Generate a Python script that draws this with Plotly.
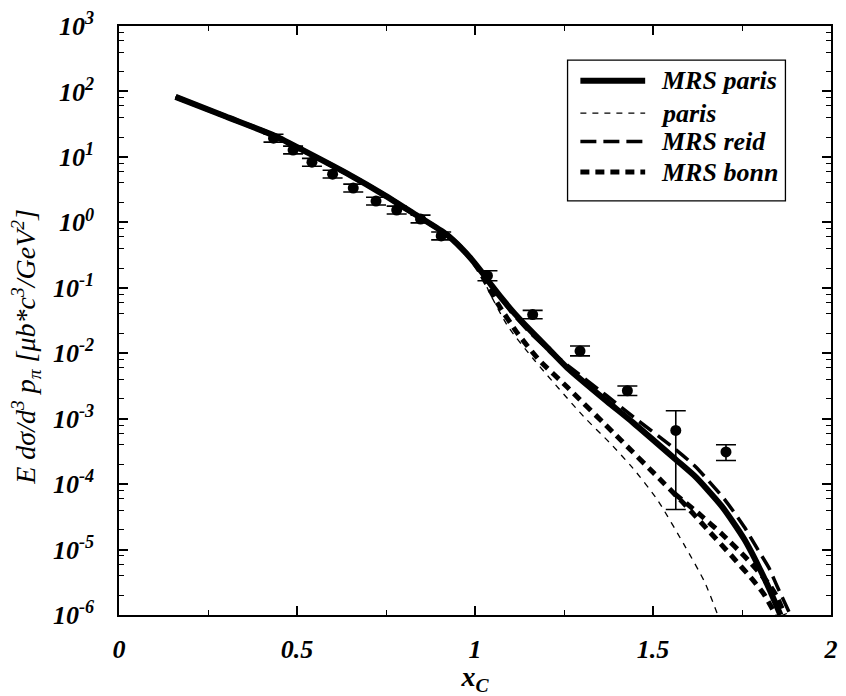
import plotly.graph_objects as go

FONT = "Liberation Serif, Times New Roman, serif"

# ---------------- data ----------------
# measured points
pts_x = [0.434, 0.489, 0.542, 0.600, 0.658, 0.722, 0.780, 0.847, 0.905,
         1.035, 1.162, 1.295, 1.428, 1.564, 1.705]
pts_y = [19.3, 12.7, 8.3, 5.45, 3.34, 2.11, 1.54, 1.12, 0.62,
         0.153, 0.039, 0.0108, 2.67e-3, 6.6e-4, 3.1e-4]
pts_err_up = [2.9, 1.9, 1.2, 0.8, 0.5, 0.31, 0.23, 0.17, 0.09,
              0.029, 0.0062, 0.0021, 4.8e-4, 6.6e-4, 0.9e-4]
pts_err_dn = [2.5, 1.6, 1.1, 0.7, 0.43, 0.27, 0.2, 0.14, 0.08,
              0.025, 0.0053, 0.0017, 4.1e-4, 6.19e-4, 0.8e-4]

# model curves
mrs_paris_x = [0.159, 0.30, 0.434, 0.511, 0.650, 0.742, 0.836, 0.919, 0.963, 0.991,
               1.030, 1.046, 1.101, 1.157, 1.212, 1.259, 1.370, 1.444, 1.563, 1.619,
               1.693, 1.757, 1.820, 1.858]
mrs_paris_y = [82.6, 41.4, 21.4, 13.1, 5.22, 2.68, 1.28, 0.661, 0.398, 0.269,
               0.145, 0.110, 0.0468, 0.0219, 0.0109, 6.0e-3, 1.85e-3, 8.7e-4, 2.4e-4, 1.30e-4,
               4.6e-5, 1.42e-5, 3.0e-6, 1.0e-6]

paris_x = [0.159, 0.30, 0.434, 0.511, 0.650, 0.742, 0.836, 0.919, 0.963, 0.991,
           1.010, 1.046, 1.093, 1.167, 1.305, 1.380, 1.444, 1.512, 1.590, 1.645, 1.682]
paris_y = [82.6, 41.4, 21.4, 13.1, 5.22, 2.68, 1.28, 0.661, 0.398, 0.269,
           0.186, 0.074, 0.0254, 7.8e-3, 1.08e-3, 4.2e-4, 1.74e-4, 5.8e-5, 1.12e-5, 3.2e-6, 1.0e-6]

mrs_reid_x = [0.159, 0.30, 0.434, 0.511, 0.650, 0.742, 0.836, 0.919, 0.963, 0.991,
              1.030, 1.046, 1.101, 1.157, 1.212, 1.259, 1.370, 1.444, 1.563, 1.619,
              1.702, 1.757, 1.793, 1.826, 1.848, 1.886]
mrs_reid_y = [82.6, 41.4, 21.4, 13.1, 5.22, 2.68, 1.28, 0.661, 0.398, 0.269,
              0.145, 0.110, 0.0430, 0.0200, 0.0107, 6.6e-3, 2.24e-3, 1.07e-3, 3.4e-4, 1.86e-4,
              5.75e-5, 2.19e-5, 1.03e-5, 5.2e-6, 2.8e-6, 1.0e-6]

mrs_bonn_x = [0.159, 0.30, 0.434, 0.511, 0.650, 0.742, 0.836, 0.919, 0.963, 0.991,
              1.010, 1.065, 1.120, 1.180, 1.259, 1.397, 1.527, 1.590, 1.654, 1.720, 1.778,
              1.811, 1.845]
mrs_bonn_y = [82.6, 41.4, 21.4, 13.1, 5.22, 2.68, 1.28, 0.661, 0.398, 0.269,
              0.19, 0.056, 0.020, 7.9e-3, 3.04e-3, 5.5e-4, 1.08e-4, 4.84e-5, 2.0e-5, 8.1e-6, 3.55e-6,
              2.1e-6, 1.0e-6]

# second (unlabelled) thick-dashed branch
bonn_branch_x = [1.560, 1.632, 1.695, 1.765, 1.825, 1.848, 1.870]
bonn_branch_y = [7.2e-5, 3.41e-5, 1.70e-5, 7.1e-6, 2.99e-6, 1.9e-6, 1.0e-6]

legend_names = ["MRS paris", "paris", "MRS reid", "MRS bonn"]

y_tick_vals = [1e-6, 1e-5, 1e-4, 1e-3, 1e-2, 1e-1, 1e0, 1e1, 1e2, 1e3]
y_tick_text = ["10<sup>-6</sup>", "10<sup>-5</sup>", "10<sup>-4</sup>", "10<sup>-3</sup>",
               "10<sup>-2</sup>", "10<sup>-1</sup>", "10<sup>0</sup>", "10<sup>1</sup>",
               "10<sup>2</sup>", "10<sup>3</sup>"]
x_tick_vals = [0, 0.5, 1, 1.5, 2]
x_tick_text = ["0", "0.5", "1", "1.5", "2"]

# ---------------- styles ----------------
styles = {
    "MRS paris": dict(color="black", width=6, dash="solid"),
    "paris": dict(color="black", width=1.3, dash="6px,6px"),
    "MRS reid": dict(color="black", width=3.5, dash="16px,7px"),
    "MRS bonn": dict(color="black", width=5, dash="9px,6px"),
}

fig = go.Figure()

curves = [
    ("paris", paris_x, paris_y),
    ("MRS bonn", mrs_bonn_x, mrs_bonn_y),
    ("MRS bonn", bonn_branch_x, bonn_branch_y),
    ("MRS reid", mrs_reid_x, mrs_reid_y),
    ("MRS paris", mrs_paris_x, mrs_paris_y),
]
for name, xs, ys in curves:
    fig.add_trace(go.Scatter(
        x=xs, y=ys, mode="lines", name=name, showlegend=False,
        line=dict(shape="spline", smoothing=0.6, **styles[name]),
        hoverinfo="skip",
    ))

fig.add_trace(go.Scatter(
    x=pts_x, y=pts_y, mode="markers", showlegend=False,
    marker=dict(symbol="circle", size=11, color="black"),
    error_y=dict(type="data", symmetric=False, array=pts_err_up, arrayminus=pts_err_dn,
                 color="black", thickness=1.6, width=10),
))

# ---------------- custom legend (box, samples, labels) ----------------
lx0, lx1, ly0, ly1 = 0.630, 0.936, 0.703, 0.942
fig.add_shape(type="rect", xref="paper", yref="paper", x0=lx0, x1=lx1, y0=ly0, y1=ly1,
              line=dict(color="black", width=1.3), fillcolor="white", layer="above")
row_y = [0.907, 0.852, 0.804, 0.752]
for name, yy in zip(legend_names, row_y):
    st = styles[name]
    fig.add_shape(type="line", xref="paper", yref="paper", x0=0.648, x1=0.739, y0=yy, y1=yy,
                  line=dict(color="black", width=st["width"], dash=st["dash"]), layer="above")
    fig.add_annotation(xref="paper", yref="paper", x=0.758, y=yy, text=name, showarrow=False,
                       xanchor="left", yanchor="middle",
                       font=dict(family=FONT, size=26, color="black", weight="bold", style="italic"))

# y axis title
fig.add_annotation(xref="paper", yref="paper", x=-0.131, y=0.455, textangle=-90,
                   text="E dσ/d<sup>3</sup> p<sub>π</sub> [μb*c<sup>3</sup>/GeV<sup>2</sup>]",
                   showarrow=False, xanchor="center", yanchor="middle",
                   font=dict(family=FONT, size=28, color="black", style="italic"))

tick_font = dict(family=FONT, size=26, color="black", weight="bold", style="italic")

y_minor = [m * 10.0 ** e for e in range(-6, 3) for m in (2, 4, 6, 8)]

fig.update_layout(
    width=846, height=696,
    margin=dict(l=119, r=8, t=20, b=76),
    paper_bgcolor="white", plot_bgcolor="white",
    showlegend=False,
    xaxis=dict(
        range=[0, 2], showgrid=False, zeroline=False,
        showline=True, linecolor="black", linewidth=1.5, mirror="ticks",
        ticks="inside", ticklen=9, tickwidth=1.5, tickcolor="black",
        tickvals=x_tick_vals, ticktext=x_tick_text, tickfont=tick_font,
        ticklabelstandoff=10,
        minor=dict(ticks="inside", ticklen=5, tickwidth=1.2, tickcolor="black",
                   dtick=0.25, tick0=0, showgrid=False),
        title=dict(text="<i>x</i><sub>C</sub>", standoff=4,
                   font=dict(family=FONT, size=28, color="black", weight="bold", style="italic")),
    ),
    yaxis=dict(
        type="log", range=[-6, 3], showgrid=False, zeroline=False,
        showline=True, linecolor="black", linewidth=1.5, mirror="ticks",
        ticks="inside", ticklen=9, tickwidth=1.5, tickcolor="black",
        tickvals=y_tick_vals, ticktext=y_tick_text, tickfont=tick_font,
        ticklabelstandoff=18,
        minor=dict(ticks="inside", ticklen=5, tickwidth=1.2, tickcolor="black",
                   tickvals=y_minor, showgrid=False),
    ),
)

fig.write_html("out.html")
